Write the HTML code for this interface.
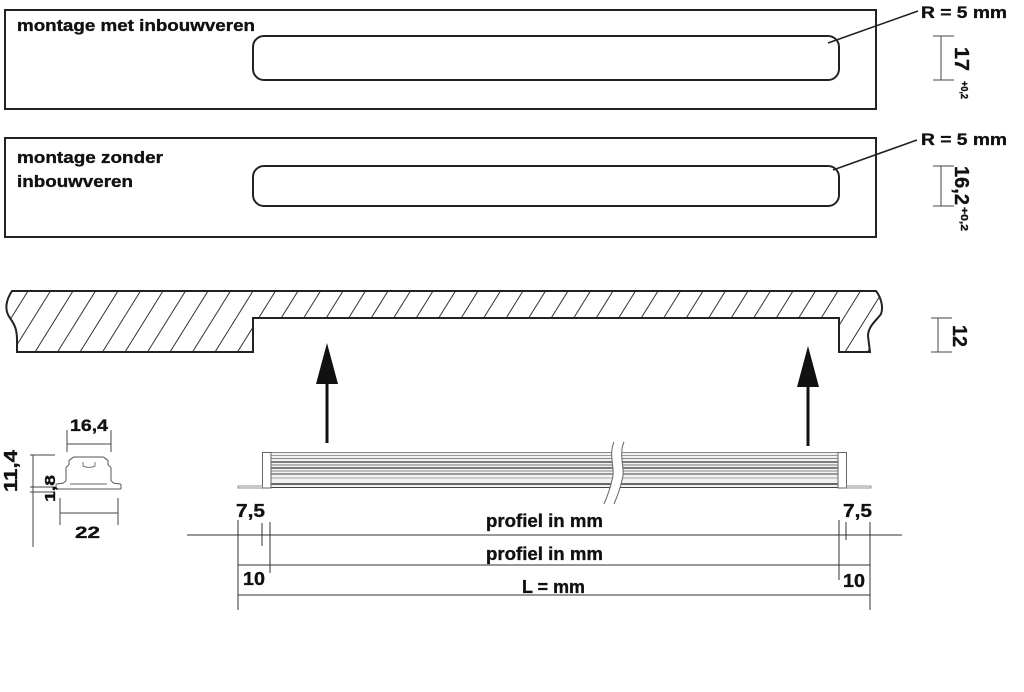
<!DOCTYPE html>
<html><head><meta charset="utf-8"><style>
html,body{margin:0;padding:0;background:#fff;}
svg{display:block;}
text{font-family:"Liberation Sans",sans-serif;font-weight:bold;fill:#111;stroke:#111;stroke-width:0.35;}
</style></head><body>
<svg width="1024" height="692" viewBox="0 0 1024 692" xmlns="http://www.w3.org/2000/svg">
<defs>
<clipPath id="board">
<path d="M12,291 L876,291 C880,296 884,306 881,314 C877,320 868,326 868,336 L870,352 L839,352 L839,318 L253,318 L253,352 L17,352 L17,340 C17,330 15,325 10,318 C4,310 6,300 12,291 Z"/>
</clipPath>
</defs>

<!-- Box 1 -->
<rect x="5" y="10" width="871" height="99" fill="none" stroke="#222" stroke-width="2"/>
<rect x="253" y="36" width="586" height="44" rx="11" fill="none" stroke="#222" stroke-width="2"/>
<text x="17" y="31" font-size="17" textLength="238" lengthAdjust="spacingAndGlyphs">montage met inbouwveren</text>
<line x1="828" y1="43" x2="918" y2="11" stroke="#222" stroke-width="1.6"/>
<text x="921" y="18" font-size="17" textLength="86" lengthAdjust="spacingAndGlyphs">R = 5 mm</text>
<g stroke="#444" stroke-width="1">
<line x1="941" y1="36" x2="941" y2="80"/>
<line x1="933" y1="36" x2="954" y2="36"/>
<line x1="933" y1="80" x2="954" y2="80"/>
</g>
<text transform="translate(955,47) rotate(90)" font-size="20" textLength="24" lengthAdjust="spacingAndGlyphs">17</text>
<text transform="translate(961,81) rotate(90)" font-size="10" textLength="18" lengthAdjust="spacingAndGlyphs">+0,2</text>

<!-- Box 2 -->
<rect x="5" y="138" width="871" height="99" fill="none" stroke="#222" stroke-width="2"/>
<rect x="253" y="166" width="586" height="40" rx="11" fill="none" stroke="#222" stroke-width="2"/>
<text x="17" y="163" font-size="17" textLength="146" lengthAdjust="spacingAndGlyphs">montage zonder</text>
<text x="17" y="187" font-size="17" textLength="116" lengthAdjust="spacingAndGlyphs">inbouwveren</text>
<line x1="833" y1="170" x2="917" y2="140" stroke="#222" stroke-width="1.6"/>
<text x="921" y="145" font-size="17" textLength="86" lengthAdjust="spacingAndGlyphs">R = 5 mm</text>
<g stroke="#444" stroke-width="1">
<line x1="941" y1="166" x2="941" y2="206"/>
<line x1="933" y1="166" x2="954" y2="166"/>
<line x1="933" y1="206" x2="954" y2="206"/>
</g>
<text transform="translate(955,166) rotate(90)" font-size="20" textLength="39" lengthAdjust="spacingAndGlyphs">16,2</text>
<text transform="translate(961,207) rotate(90)" font-size="10" textLength="24" lengthAdjust="spacingAndGlyphs">+0,2</text>

<!-- Board section -->
<g clip-path="url(#board)" stroke="#333" stroke-width="1">
<line x1="-10" y1="352" x2="28" y2="291"/>
<line x1="12.5" y1="352" x2="50.5" y2="291"/>
<line x1="35" y1="352" x2="73" y2="291"/>
<line x1="57.5" y1="352" x2="95.5" y2="291"/>
<line x1="80" y1="352" x2="118" y2="291"/>
<line x1="102.5" y1="352" x2="140.5" y2="291"/>
<line x1="125" y1="352" x2="163" y2="291"/>
<line x1="147.5" y1="352" x2="185.5" y2="291"/>
<line x1="170" y1="352" x2="208" y2="291"/>
<line x1="192.5" y1="352" x2="230.5" y2="291"/>
<line x1="215" y1="352" x2="253" y2="291"/>
<line x1="237.5" y1="352" x2="275.5" y2="291"/>
<line x1="260" y1="352" x2="298" y2="291"/>
<line x1="282.5" y1="352" x2="320.5" y2="291"/>
<line x1="305" y1="352" x2="343" y2="291"/>
<line x1="327.5" y1="352" x2="365.5" y2="291"/>
<line x1="350" y1="352" x2="388" y2="291"/>
<line x1="372.5" y1="352" x2="410.5" y2="291"/>
<line x1="395" y1="352" x2="433" y2="291"/>
<line x1="417.5" y1="352" x2="455.5" y2="291"/>
<line x1="440" y1="352" x2="478" y2="291"/>
<line x1="462.5" y1="352" x2="500.5" y2="291"/>
<line x1="485" y1="352" x2="523" y2="291"/>
<line x1="507.5" y1="352" x2="545.5" y2="291"/>
<line x1="530" y1="352" x2="568" y2="291"/>
<line x1="552.5" y1="352" x2="590.5" y2="291"/>
<line x1="575" y1="352" x2="613" y2="291"/>
<line x1="597.5" y1="352" x2="635.5" y2="291"/>
<line x1="620" y1="352" x2="658" y2="291"/>
<line x1="642.5" y1="352" x2="680.5" y2="291"/>
<line x1="665" y1="352" x2="703" y2="291"/>
<line x1="687.5" y1="352" x2="725.5" y2="291"/>
<line x1="710" y1="352" x2="748" y2="291"/>
<line x1="732.5" y1="352" x2="770.5" y2="291"/>
<line x1="755" y1="352" x2="793" y2="291"/>
<line x1="777.5" y1="352" x2="815.5" y2="291"/>
<line x1="800" y1="352" x2="838" y2="291"/>
<line x1="822.5" y1="352" x2="860.5" y2="291"/>
<line x1="845" y1="352" x2="883" y2="291"/>
<line x1="867.5" y1="352" x2="905.5" y2="291"/>
</g>
<path d="M12,291 L876,291 C880,296 884,306 881,314 C877,320 868,326 868,336 L870,352 L839,352 L839,318 L253,318 L253,352 L17,352 L17,340 C17,330 15,325 10,318 C4,310 6,300 12,291 Z" fill="none" stroke="#222" stroke-width="2" stroke-linejoin="miter"/>
<g stroke="#444" stroke-width="1">
<line x1="938" y1="318" x2="938" y2="352"/>
<line x1="931" y1="318" x2="952" y2="318"/>
<line x1="931" y1="352" x2="952" y2="352"/>
</g>
<text transform="translate(953,325) rotate(90)" font-size="20" textLength="22" lengthAdjust="spacingAndGlyphs">12</text>

<!-- Arrows -->
<line x1="327" y1="443" x2="327" y2="380" stroke="#111" stroke-width="3"/>
<polygon points="327,343 316,384 338,384" fill="#111"/>
<line x1="808" y1="446" x2="808" y2="383" stroke="#111" stroke-width="3"/>
<polygon points="808,346 797,387 819,387" fill="#111"/>

<!-- Profile strip -->
<rect x="271" y="452" width="567" height="36" fill="#f2f2f2"/>
<g stroke-width="1">
<line x1="271" y1="452.5" x2="838" y2="452.5" stroke="#888"/>
<line x1="271" y1="455.5" x2="838" y2="455.5" stroke="#999"/>
<line x1="271" y1="458.5" x2="838" y2="458.5" stroke="#888"/>
<line x1="271" y1="462" x2="838" y2="462" stroke="#555" stroke-width="1.5"/>
<line x1="271" y1="465" x2="838" y2="465" stroke="#777"/>
<line x1="271" y1="468" x2="838" y2="468" stroke="#555" stroke-width="1.5"/>
<line x1="271" y1="471" x2="838" y2="471" stroke="#888"/>
<line x1="271" y1="474" x2="838" y2="474" stroke="#666" stroke-width="1.3"/>
<line x1="271" y1="478" x2="838" y2="478" stroke="#aaa"/>
<line x1="271" y1="484" x2="838" y2="484" stroke="#555" stroke-width="1.8"/>
<line x1="271" y1="487.5" x2="838" y2="487.5" stroke="#444"/>
</g>
<rect x="262.5" y="452.5" width="8.5" height="35.5" fill="#fff" stroke="#666" stroke-width="1"/>
<rect x="238" y="486" width="24.5" height="2" fill="#fff" stroke="#777" stroke-width="0.8"/>
<rect x="838" y="452.5" width="8.5" height="35.5" fill="#fff" stroke="#666" stroke-width="1"/>
<rect x="846.5" y="486" width="24.5" height="2" fill="#fff" stroke="#777" stroke-width="0.8"/>
<!-- break -->
<path d="M614,442 C608,455 616,470 612,480 C610,490 607,497 604,504 L614,504 C617,497 620,490 622,480 C626,470 618,455 624,442 Z" fill="#fff" stroke="none"/>
<path d="M614,442 C608,455 616,470 612,480 C610,490 607,497 604,504" fill="none" stroke="#666" stroke-width="1"/>
<path d="M624,442 C618,455 626,470 622,480 C620,490 617,497 614,504" fill="none" stroke="#666" stroke-width="1"/>

<!-- Dimension lines bottom -->
<g stroke="#333" stroke-width="1">
<line x1="187" y1="535" x2="902" y2="535"/>
<line x1="238" y1="565" x2="870" y2="565"/>
<line x1="238" y1="595" x2="870" y2="595"/>
<line x1="238" y1="520" x2="238" y2="610"/>
<line x1="262" y1="523" x2="262" y2="546"/>
<line x1="270" y1="522" x2="270" y2="573"/>
<line x1="839" y1="520" x2="839" y2="580"/>
<line x1="846" y1="522" x2="846" y2="540"/>
<line x1="870" y1="522" x2="870" y2="610"/>
</g>
<text x="236" y="517" font-size="18" textLength="29" lengthAdjust="spacingAndGlyphs">7,5</text>
<text x="843" y="517" font-size="18" textLength="29" lengthAdjust="spacingAndGlyphs">7,5</text>
<text x="243" y="585" font-size="18" textLength="22" lengthAdjust="spacingAndGlyphs">10</text>
<text x="843" y="587" font-size="18" textLength="22" lengthAdjust="spacingAndGlyphs">10</text>
<text x="486" y="527" font-size="18" textLength="117" lengthAdjust="spacingAndGlyphs">profiel in mm</text>
<text x="486" y="560" font-size="18" textLength="117" lengthAdjust="spacingAndGlyphs">profiel in mm</text>
<text x="522" y="593" font-size="18" textLength="63" lengthAdjust="spacingAndGlyphs">L = mm</text>

<!-- Small cross section -->
<g stroke="#444" stroke-width="1">
<line x1="67" y1="430" x2="67" y2="452"/>
<line x1="111" y1="430" x2="111" y2="452"/>
<line x1="67" y1="444" x2="111" y2="444"/>
<line x1="33" y1="455" x2="33" y2="547"/>
<line x1="30" y1="455" x2="55" y2="455"/>
<line x1="30" y1="487" x2="55" y2="487"/>
<line x1="30" y1="492" x2="55" y2="492"/>
<line x1="60" y1="498" x2="60" y2="525"/>
<line x1="118" y1="498" x2="118" y2="525"/>
<line x1="60" y1="513" x2="118" y2="513"/>
</g>
<path d="M57,488 L57,485 L64,484 L67,481 L67,468 L70,465 L70,461 L74,458 L103,458 L107,461 L107,465 L110,468 L110,481 L113,484 L120,485 L120,488 Z" fill="#fff" stroke="#555" stroke-width="3" stroke-linejoin="round"/>
<path d="M57,488 L57,485 L64,484 L67,481 L67,468 L70,465 L70,461 L74,458 L103,458 L107,461 L107,465 L110,468 L110,481 L113,484 L120,485 L120,488 Z" fill="#fff" stroke="#fff" stroke-width="1" stroke-linejoin="round"/>
<line x1="70" y1="484" x2="107" y2="484" stroke="#666" stroke-width="1"/>
<path d="M83,462 L83,466 Q89,469 95,466 L95,462" fill="none" stroke="#777" stroke-width="1"/>
<text x="70" y="431" font-size="17" textLength="38" lengthAdjust="spacingAndGlyphs">16,4</text>
<text x="75" y="538" font-size="17" textLength="25" lengthAdjust="spacingAndGlyphs">22</text>
<text transform="translate(17,492) rotate(-90)" font-size="18" textLength="42" lengthAdjust="spacingAndGlyphs">11,4</text>
<text transform="translate(55,502) rotate(-90)" font-size="15" textLength="27" lengthAdjust="spacingAndGlyphs">1,8</text>
</svg>
</body></html>
